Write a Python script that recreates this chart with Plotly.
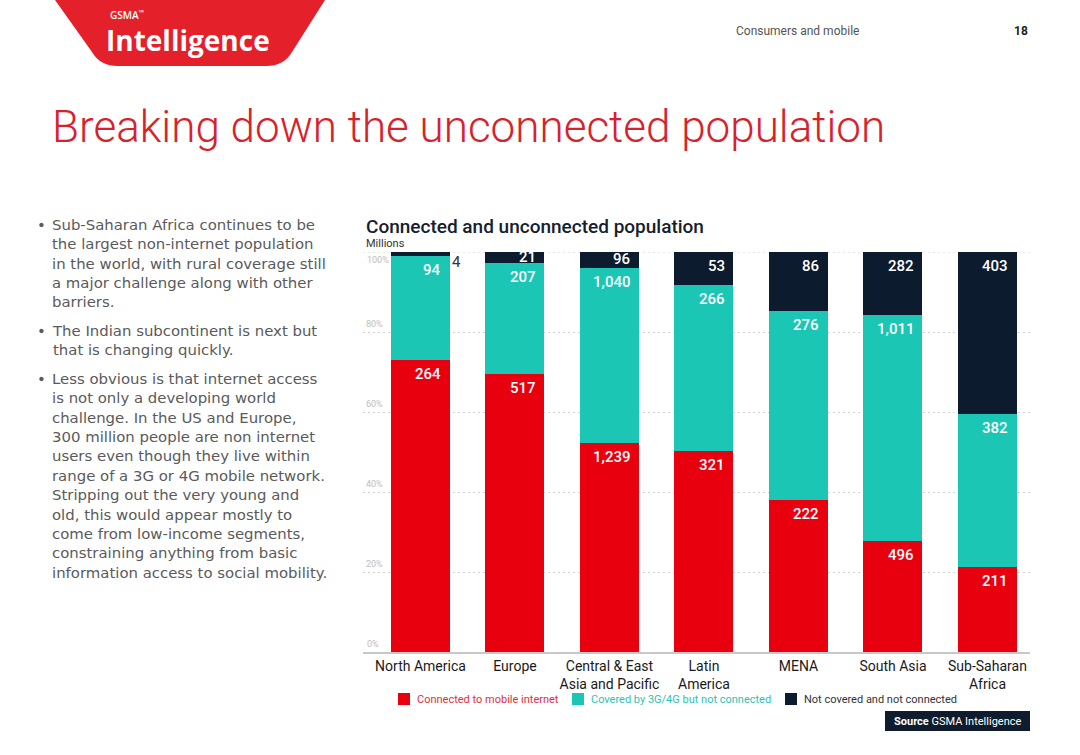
import plotly.graph_objects as go

W, H = 1080, 755

# ---------------- data ----------------
regions = ["North America", "Europe", "Central & East<br>Asia and Pacific", "Latin<br>America",
           "MENA", "South Asia", "Sub-Saharan<br>Africa"]
connected = [264, 517, 1239, 321, 222, 496, 211]
covered_not_connected = [94, 207, 1040, 266, 276, 1011, 382]
not_covered = [4, 21, 96, 53, 86, 282, 403]

series_names = ["Connected to mobile internet", "Covered by 3G/4G but not connected",
                "Not covered and not connected"]
series_values = [connected, covered_not_connected, not_covered]
series_colors = ["#E8000F", "#1CC6B4", "#0C1B2E"]
legend_text_colors = ["#E2303A", "#2EC3B2", "#333333"]

y_tick_vals = [20, 40, 60, 80]
y_tick_text = ["20%", "40%", "60%", "80%"]

bullets = [
    "Sub-Saharan Africa continues to be<br>the largest non-internet population<br>in the world, with rural coverage still<br>a major challenge along with other<br>barriers.",
    "The Indian subcontinent is next but<br>that is changing quickly.",
    "Less obvious is that internet access<br>is not only a developing world<br>challenge. In the US and Europe,<br>300 million people are non internet<br>users even though they live within<br>range of a 3G or 4G mobile network.<br>Stripping out the very young and<br>old, this would appear mostly to<br>come from low-income segments,<br>constraining anything from basic<br>information access to social mobility.",
]
bullet_tops = [214, 320, 368]


def px(x):
    return x / W


def py(y):
    return 1 - y / H


FONT = "Roboto"
BODY_FONT = "DejaVu Sans"

fig = go.Figure()
for name, vals, col in zip(series_names, series_values, series_colors):
    fig.add_trace(go.Bar(x=regions, y=vals, name=name, marker=dict(color=col, line=dict(width=0)),
                         showlegend=False, hoverinfo="x+y+name"))

annotations = []
shapes = []

# value labels computed from the data (percent positions)
totals = [sum(v[i] for v in series_values) for i in range(len(regions))]
for s, vals in enumerate(series_values):
    for i, v in enumerate(vals):
        top = sum(series_values[k][i] for k in range(s + 1)) / totals[i] * 100
        pct = v / totals[i] * 100
        seg_px = pct * 4.0
        label = f"{v:,}"
        if pct < 2:
            annotations.append(dict(x=regions[i], y=top, xref="x", yref="y", text=label, showarrow=False,
                                    xanchor="left", yanchor="top", xshift=30, yshift=1,
                                    font=dict(family=FONT, size=15, color="#333333")))
        elif seg_px < 18:
            mid = top - pct / 2
            annotations.append(dict(x=regions[i], y=mid, xref="x", yref="y", text=label, showarrow=False,
                                    xanchor="right", yanchor="middle", xshift=23, yshift=1,
                                    font=dict(family=FONT, size=15, color="white", weight=500)))
        else:
            annotations.append(dict(x=regions[i], y=top, xref="x", yref="y", text=label, showarrow=False,
                                    xanchor="right", yanchor="top", xshift=23, yshift=-3,
                                    font=dict(family=FONT, size=15, color="white", weight=500)))

# 0% and 100% labels and 100% gridline
annotations.append(dict(x=px(365), y=0, xref="paper", yref="y", text="0%", showarrow=False,
                        xanchor="left", yanchor="bottom", yshift=1,
                        font=dict(family=FONT, size=9, color="#BDBDBD")))
annotations.append(dict(x=px(365), y=100, xref="paper", yref="y", text="100%", showarrow=False,
                        xanchor="left", yanchor="middle", yshift=-8,
                        font=dict(family=FONT, size=9, color="#BDBDBD")))
shapes.append(dict(type="line", xref="x domain", yref="y", x0=0, x1=1, y0=100, y1=100,
                   line=dict(color="#D2D2D2", width=1, dash="2px,3px"), layer="below"))

# logo
logo_path = (f"M {px(55)},{py(0)} L {px(325)},{py(0)} L {px(292)},{py(52)} "
             f"Q {px(284)},{py(66)} {px(266)},{py(66)} L {px(118)},{py(66)} "
             f"Q {px(100)},{py(66)} {px(92)},{py(52)} Z")
shapes.append(dict(type="path", path=logo_path, xref="paper", yref="paper",
                   fillcolor="#E4202A", line=dict(width=0), layer="above"))
annotations.append(dict(x=px(108), y=py(15), xref="paper", yref="paper", text="GSMA<sup>™</sup>",
                        showarrow=False, xanchor="left", yanchor="middle",
                        font=dict(family="Open Sans", size=10, color="white", weight=600)))
annotations.append(dict(x=px(104), y=py(40), xref="paper", yref="paper", text="<b>Intelligence</b>",
                        showarrow=False, xanchor="left", yanchor="middle",
                        font=dict(family="Open Sans", size=28, color="white")))

# header
annotations.append(dict(x=px(734), y=py(31), xref="paper", yref="paper", text="Consumers and mobile",
                        showarrow=False, xanchor="left", yanchor="middle",
                        font=dict(family=FONT, size=12, color="#555555")))
annotations.append(dict(x=px(1030), y=py(31), xref="paper", yref="paper", text="<b>18</b>",
                        showarrow=False, xanchor="right", yanchor="middle",
                        font=dict(family=FONT, size=12, color="#222222")))

# main title
annotations.append(dict(x=px(50), y=py(127), xref="paper", yref="paper",
                        text="Breaking down the unconnected population",
                        showarrow=False, xanchor="left", yanchor="middle",
                        font=dict(family=FONT, size=44, color="#D8222B", weight=300)))

# bullets
for txt, top in zip(bullets, bullet_tops):
    annotations.append(dict(x=px(50), y=py(top), xref="paper", yref="paper", text=txt, align="left",
                            showarrow=False, xanchor="left", yanchor="top",
                            font=dict(family=BODY_FONT, size=14.9, color="#5A5A5A")))
    annotations.append(dict(x=px(35), y=py(top), xref="paper", yref="paper", text="•",
                            showarrow=False, xanchor="left", yanchor="top",
                            font=dict(family=BODY_FONT, size=14.9, color="#5A5A5A")))

# chart title
annotations.append(dict(x=px(364), y=py(226), xref="paper", yref="paper",
                        text="Connected and unconnected population",
                        showarrow=False, xanchor="left", yanchor="middle",
                        font=dict(family=FONT, size=19, color="#14202E", weight=500)))
annotations.append(dict(x=px(364), y=py(243), xref="paper", yref="paper", text="Millions",
                        showarrow=False, xanchor="left", yanchor="middle",
                        font=dict(family=FONT, size=11, color="#333333")))

# legend (manual)
legend_x = [398, 572, 785]
for name, col, tcol, lx in zip(series_names, series_colors, legend_text_colors, legend_x):
    shapes.append(dict(type="rect", xref="paper", yref="paper", x0=px(lx), x1=px(lx + 12),
                       y0=py(705), y1=py(693), fillcolor=col, line=dict(width=0)))
    annotations.append(dict(x=px(lx + 17), y=py(699), xref="paper", yref="paper", text=name,
                            showarrow=False, xanchor="left", yanchor="middle",
                            font=dict(family=FONT, size=11, color=tcol)))

# source box
shapes.append(dict(type="rect", xref="paper", yref="paper", x0=px(885), x1=px(1030),
                   y0=py(731), y1=py(711), fillcolor="#0E1C2D", line=dict(width=0)))
annotations.append(dict(x=px(957.5), y=py(721), xref="paper", yref="paper",
                        text="<b>Source</b> GSMA Intelligence", showarrow=False,
                        xanchor="center", yanchor="middle",
                        font=dict(family=FONT, size=11, color="white")))

fig.update_layout(
    width=W, height=H,
    margin=dict(l=0, r=0, t=0, b=0),
    paper_bgcolor="white", plot_bgcolor="white",
    barmode="stack", barnorm="percent", bargap=0.376,
    font=dict(family=FONT),
    annotations=annotations, shapes=shapes,
    showlegend=False,
    xaxis=dict(domain=[px(363), px(1030)], range=[-0.608, 6.45], showline=True, linecolor="#C8C8C8",
               linewidth=2, showgrid=False, ticks="", tickfont=dict(family=FONT, size=14, color="#1A1A1A"),
               fixedrange=True),
    yaxis=dict(domain=[1 - 652 / H, 1 - 252 / H], range=[0, 100], tickvals=y_tick_vals,
               ticktext=y_tick_text,
               ticklabelposition="inside", ticklabelshift=-8, tickfont=dict(family=FONT, size=9, color="#BDBDBD"),
               showgrid=True, gridcolor="#D2D2D2", griddash="2px,3px", gridwidth=1,
               zeroline=False, showline=False, ticks="", fixedrange=True),
)

fig.write_html("out.html", config={"displayModeBar": False},
               post_script="document.body.style.margin='0';document.body.style.overflow='hidden';")
